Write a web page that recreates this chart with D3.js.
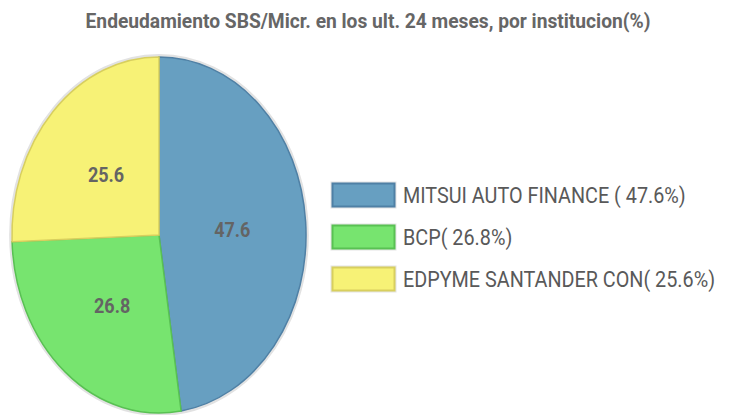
<!DOCTYPE html>
<html>
<head>
<meta charset="utf-8">
<script src="https://cdn.jsdelivr.net/npm/d3@7"></script>
<style>
  body { margin: 0; background: #fff; }
  svg { display: block; font-family: Roboto, "Liberation Sans", sans-serif; }
</style>
</head>
<body>
<div id="chart"></div>
<script>
const institutions = ["MITSUI AUTO FINANCE", "BCP", "EDPYME SANTANDER CON"];
const shares = [47.6, 26.8, 25.6];
const legendLabels = ["MITSUI AUTO FINANCE ( 47.6%)", "BCP( 26.8%)", "EDPYME SANTANDER CON( 25.6%)"];
const fills = ["#679fc1", "#77e46f", "#f7f276"];
const strokes = ["#4f80a5", "#59c153", "#d8cf5e"];
const title = "Endeudamiento SBS/Micr. en los ult. 24 meses, por institucion(%)";

const width = 735, height = 415;
// pie is squeezed horizontally, text a bit less
const sx = 0.826;
const tx = 0.9;

const svg = d3.select("#chart").append("svg")
    .attr("width", width)
    .attr("height", height);

svg.append("text")
    .attr("transform", `translate(368, 28) scale(0.915,1)`)
    .attr("text-anchor", "middle")
    .style("font-size", "21px")
    .style("font-weight", "bold")
    .style("fill", "#666")
    .text(title);

const radius = 178;
const pieG = svg.append("g")
    .attr("transform", `translate(159, 235) scale(${sx},1)`);

pieG.append("circle")
    .attr("r", radius + 1)
    .attr("fill", "none")
    .attr("stroke", "#e2e2e2")
    .attr("stroke-width", 4)
    .attr("vector-effect", "non-scaling-stroke");

const pie = d3.pie().sort(null).value(d => d);
const arc = d3.arc().innerRadius(0).outerRadius(radius);
const labelArc = d3.arc().innerRadius(radius * 0.5).outerRadius(radius * 0.5);

const arcs = pie(shares);

pieG.selectAll(".slice")
    .data(arcs)
    .enter().append("path")
    .attr("class", "slice")
    .attr("d", arc)
    .attr("fill", (d, i) => fills[i])
    .attr("stroke", (d, i) => strokes[i])
    .attr("stroke-width", 1.5)
    .attr("vector-effect", "non-scaling-stroke");

// value labels, placed in pie space then un-squeezed for the text
svg.selectAll(".val")
    .data(arcs)
    .enter().append("text")
    .attr("class", "val")
    .attr("transform", d => {
        const c = labelArc.centroid(d);
        return `translate(${159 + c[0] * sx}, ${235 + c[1]}) scale(${tx},1)`;
    })
    .attr("dy", "0.45em")
    .attr("text-anchor", "middle")
    .style("font-size", "20px")
    .style("font-weight", "bold")
    .style("fill", "#646464")
    .text(d => d.data.toFixed(1));

const legend = svg.append("g")
    .attr("transform", `translate(332, 183)`);

const item = legend.selectAll(".legend-item")
    .data(institutions)
    .enter().append("g")
    .attr("class", "legend-item")
    .attr("transform", (d, i) => `translate(0, ${i * 42})`);

item.append("rect")
    .attr("x", -1.5)
    .attr("y", -1.5)
    .attr("width", 66)
    .attr("height", 27)
    .attr("fill", "#e4e4e4");

item.append("rect")
    .attr("x", 0.5)
    .attr("y", 0.5)
    .attr("width", 62)
    .attr("height", 23)
    .attr("fill", (d, i) => fills[i])
    .attr("stroke", (d, i) => strokes[i])
    .attr("stroke-width", 2);

item.append("text")
    .attr("transform", `translate(${403 - 332}, 20) scale(${tx},1)`)
    .style("font-size", "22px")
    .style("fill", "#595959")
    .text((d, i) => legendLabels[i]);
</script>
</body>
</html>
